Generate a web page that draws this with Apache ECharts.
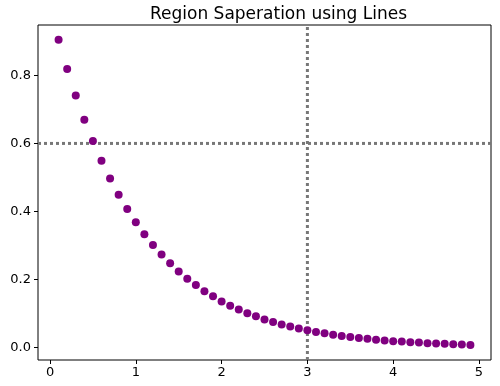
<!DOCTYPE html>
<html><head><meta charset="utf-8">
<script src="https://cdn.jsdelivr.net/npm/echarts@6/dist/echarts.min.js"></script>
<style>html,body{margin:0;padding:0;background:#fff}#c{width:500px;height:386px}</style>
</head><body><div id="c"></div>
<script>
const xValues = [0.1,0.2,0.3,0.4,0.5,0.6,0.7,0.8,0.9,1.0,1.1,1.2,1.3,1.4,1.5,1.6,1.7,1.8,1.9,2.0,2.1,2.2,2.3,2.4,2.5,2.6,2.7,2.8,2.9,3.0,3.1,3.2,3.3,3.4,3.5,3.6,3.7,3.8,3.9,4.0,4.1,4.2,4.3,4.4,4.5,4.6,4.7,4.8,4.9];
const yValues = [0.905,0.819,0.741,0.670,0.607,0.549,0.497,0.449,0.407,0.368,0.333,0.301,0.273,0.247,0.223,0.202,0.183,0.165,0.150,0.135,0.122,0.111,0.100,0.091,0.082,0.074,0.067,0.061,0.055,0.050,0.045,0.041,0.037,0.033,0.030,0.027,0.025,0.022,0.020,0.018,0.017,0.015,0.014,0.012,0.011,0.010,0.009,0.008,0.007];
const xTicks = [0,1,2,3,4,5];
const yTicks = [0.0,0.2,0.4,0.6,0.8];
const hLineY = 0.6;
const vLineX = 3;
const titleText = 'Region Saperation using Lines';

// frame extents (matplotlib-style 5% margins)
const xMin = -0.14, xMax = 5.14, yMin = -0.0375, yMax = 0.9486;
const F = {left:38, right:9, top:25, bottom:26};
const W = 500, H = 386, TL = 4;
const fw = W - F.left - F.right, fh = H - F.top - F.bottom;
const px = v => F.left + (v - xMin) / (xMax - xMin) * fw;
const py = v => H - F.bottom - (v - yMin) / (yMax - yMin) * fh;
const tx0 = xTicks[0], tx1 = xTicks[xTicks.length-1];
const ty0 = yTicks[0], ty1 = yTicks[yTicks.length-1];
const tickGrid = {left:px(tx0), right:W - px(tx1), top:py(ty1), bottom:H - py(ty0), show:false};
// thin grids just outside the frame whose split lines act as tick marks
const yTickGrid = {left:F.left - TL, right:W - F.left, top:py(ty1), bottom:H - py(ty0), show:false};
const xTickGrid = {left:px(tx0), right:W - px(tx1), top:H - F.bottom, bottom:F.bottom - TL, show:false};

const chart = echarts.init(document.getElementById('c'), null, {renderer:'canvas'});
const font = 'DejaVu Sans';
const hidden = {show:true,axisLine:{show:false,onZero:false},axisTick:{show:false},axisLabel:{show:false}};
chart.setOption({
  animation:false,
  title:{text:titleText,left:145,top:1,textStyle:{fontFamily:font,fontSize:17,fontWeight:'normal',color:'#000'}},
  grid:[
    {left:F.left,right:F.right,top:F.top,bottom:F.bottom,show:true,borderColor:'#000',borderWidth:1,backgroundColor:'transparent'},
    tickGrid, yTickGrid, xTickGrid
  ],
  xAxis:[
    {gridIndex:0,type:'value',min:xMin,max:xMax,show:false},
    {gridIndex:1,type:'value',min:tx0,max:tx1,interval:1,offset:(H - F.bottom) - py(ty0),
      axisLine:{show:false,onZero:false},splitLine:{show:false},
      axisTick:{show:false},
      axisLabel:{show:true,margin:6,fontFamily:font,fontSize:13,color:'#000',formatter:v=>String(v)}},
    {gridIndex:2,type:'value',min:0,max:1,show:false},
    Object.assign({gridIndex:3,type:'value',min:tx0,max:tx1,interval:1,splitLine:{show:true,lineStyle:{color:'#000',width:1}}},hidden)
  ],
  yAxis:[
    {gridIndex:0,type:'value',min:yMin,max:yMax,show:false},
    {gridIndex:1,type:'value',min:ty0,max:ty1,interval:0.2,offset:px(tx0) - F.left,
      axisLine:{show:false,onZero:false},splitLine:{show:false},
      axisTick:{show:false},
      axisLabel:{show:true,margin:7,fontFamily:font,fontSize:13,color:'#000',formatter:v=>v.toFixed(1)}},
    Object.assign({gridIndex:2,type:'value',min:ty0,max:ty1,interval:0.2,splitLine:{show:true,lineStyle:{color:'#000',width:1}}},hidden),
    {gridIndex:3,type:'value',min:0,max:1,show:false}
  ],
  series:[
    {type:'line',xAxisIndex:0,yAxisIndex:0,data:[[xMin,hLineY],[xMax,hLineY]],symbol:'none',z:1,lineStyle:{color:'#777',width:3,type:[3,3]}},
    {type:'line',xAxisIndex:0,yAxisIndex:0,data:[[vLineX,yMin],[vLineX,yMax]],symbol:'none',z:1,lineStyle:{color:'#777',width:3,type:[3,3]}},
    {type:'scatter',xAxisIndex:0,yAxisIndex:0,data:xValues.map((x,i)=>[x,yValues[i]]),symbolSize:8,z:3,itemStyle:{color:'#800080',opacity:1}}
  ]
});
</script>
</body></html>
